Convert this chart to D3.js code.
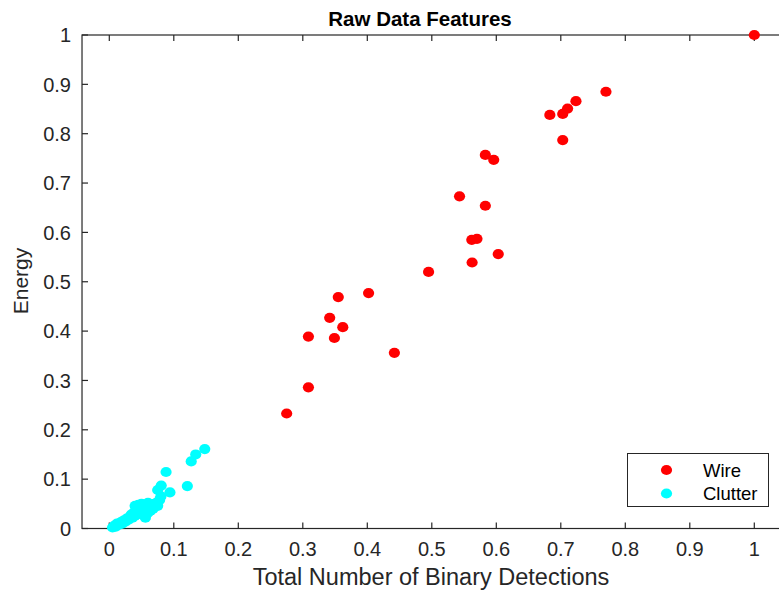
<!DOCTYPE html>
<html>
<head>
<meta charset="utf-8">
<script src="https://cdn.jsdelivr.net/npm/d3@7"></script>
<style>
  body { margin: 0; background: #fff; }
  svg { display: block; font-family: "Liberation Sans", Arial, sans-serif; }
</style>
</head>
<body>
<svg id="chart" width="779" height="590"></svg>
<script>
// wire points (red)
var wireX = [1.0, 0.770, 0.7235, 0.7105, 0.703, 0.683, 0.703, 0.583, 0.596, 0.543, 0.583, 0.562, 0.570,
             0.603, 0.5625, 0.495, 0.355, 0.402, 0.3417, 0.362, 0.3087, 0.349, 0.442, 0.3087, 0.275];
var wireY = [1.0, 0.885, 0.866, 0.851, 0.840, 0.838, 0.787, 0.757, 0.747, 0.673, 0.654, 0.585, 0.587,
             0.556, 0.539, 0.520, 0.469, 0.477, 0.427, 0.408, 0.389, 0.386, 0.356, 0.286, 0.233];
// clutter points (cyan)
var clutterX = [0.005, 0.008, 0.010, 0.012, 0.015, 0.018, 0.020, 0.022, 0.025, 0.027, 0.030, 0.032,
                0.034, 0.036, 0.038, 0.040, 0.040, 0.042, 0.044, 0.045, 0.047, 0.048, 0.050, 0.050,
                0.052, 0.053, 0.055, 0.056, 0.058, 0.060, 0.060, 0.062, 0.064, 0.066, 0.068, 0.070,
                0.073, 0.075, 0.078, 0.080, 0.075, 0.0805, 0.094, 0.088, 0.121, 0.127, 0.134, 0.148];
var clutterY = [0.002, 0.006, 0.004, 0.010, 0.008, 0.013, 0.010, 0.016, 0.014, 0.020, 0.018, 0.024,
                0.028, 0.022, 0.032, 0.026, 0.046, 0.036, 0.030, 0.048, 0.040, 0.034, 0.044, 0.050,
                0.028, 0.038, 0.046, 0.022, 0.040, 0.052, 0.032, 0.044, 0.036, 0.048, 0.040, 0.050,
                0.052, 0.046, 0.058, 0.065, 0.078, 0.087, 0.073, 0.1145, 0.086, 0.136, 0.150, 0.161];
var xTicks = [0, 0.1, 0.2, 0.3, 0.4, 0.5, 0.6, 0.7, 0.8, 0.9, 1];
var yTicks = [0, 0.1, 0.2, 0.3, 0.4, 0.5, 0.6, 0.7, 0.8, 0.9, 1];
var seriesNames = ["Wire", "Clutter"];
var seriesColors = ["#ff0000", "#00ffff"];

var axisColor = "#262626";
var svg = d3.select("#chart");

var x = d3.scaleLinear().domain([0, 1]).range([109.3, 754.3]);
var y = d3.scaleLinear().domain([0, 1]).range([528.5, 35]);
var boxL = x(-0.0423), boxR = x(1.06), boxT = y(1), boxB = y(0);

// axes box
svg.append("rect")
    .attr("x", boxL).attr("y", boxT)
    .attr("width", boxR - boxL).attr("height", boxB - boxT)
    .attr("fill", "#fff").attr("stroke", axisColor).attr("stroke-width", 1.2);

// ticks, inward on bottom/top and left
var tickLen = 6;
var g = svg.append("g").attr("stroke", axisColor).attr("stroke-width", 1.2);
xTicks.forEach(function (t) {
    g.append("line").attr("x1", x(t)).attr("x2", x(t)).attr("y1", boxB).attr("y2", boxB - tickLen);
    g.append("line").attr("x1", x(t)).attr("x2", x(t)).attr("y1", boxT).attr("y2", boxT + tickLen);
});
yTicks.forEach(function (t) {
    g.append("line").attr("x1", boxL).attr("x2", boxL + tickLen).attr("y1", y(t)).attr("y2", y(t));
});

var fmt = function (d) { return d3.format("")(+d.toFixed(1)); };

svg.append("g").selectAll("text").data(xTicks).enter().append("text")
    .attr("x", function (d) { return x(d); })
    .attr("y", 556)
    .attr("text-anchor", "middle")
    .attr("font-size", 20)
    .attr("fill", axisColor)
    .text(fmt);

svg.append("g").selectAll("text").data(yTicks).enter().append("text")
    .attr("x", 71)
    .attr("y", function (d) { return y(d); })
    .attr("dy", "0.36em")
    .attr("text-anchor", "end")
    .attr("font-size", 20)
    .attr("fill", axisColor)
    .text(fmt);

// points
var pts = svg.append("g");
function drawSeries(xs, ys, color) {
    pts.append("g").selectAll("ellipse").data(xs).enter().append("ellipse")
        .attr("cx", function (d) { return x(d); })
        .attr("cy", function (d, i) { return y(ys[i]); })
        .attr("rx", 5.6).attr("ry", 5.1)
        .attr("fill", color);
}
drawSeries(wireX, wireY, seriesColors[0]);
drawSeries(clutterX, clutterY, seriesColors[1]);

// labels
svg.append("text")
    .attr("x", 420).attr("y", 26)
    .attr("text-anchor", "middle")
    .attr("font-size", 20.5).attr("font-weight", "bold")
    .attr("fill", "#000")
    .text("Raw Data Features");

svg.append("text")
    .attr("x", 431).attr("y", 585)
    .attr("text-anchor", "middle")
    .attr("font-size", 23.5)
    .attr("fill", axisColor)
    .text("Total Number of Binary Detections");

svg.append("text")
    .attr("transform", "translate(28,281) rotate(-90)")
    .attr("text-anchor", "middle")
    .attr("font-size", 21)
    .attr("fill", axisColor)
    .text("Energy");

// legend
var lg = svg.append("g");
lg.append("rect")
    .attr("x", 627.5).attr("y", 453.5).attr("width", 141).attr("height", 53)
    .attr("fill", "#fff").attr("stroke", axisColor).attr("stroke-width", 1);
seriesNames.forEach(function (name, i) {
    var ly = 470 + i * 23.5;
    lg.append("ellipse").attr("cx", 666.5).attr("cy", ly).attr("rx", 5.6).attr("ry", 5.1)
        .attr("fill", seriesColors[i]);
    lg.append("text").attr("x", 703).attr("y", ly).attr("dy", "0.36em")
        .attr("font-size", 18.5).attr("fill", "#000").text(name);
});
</script>
</body>
</html>
